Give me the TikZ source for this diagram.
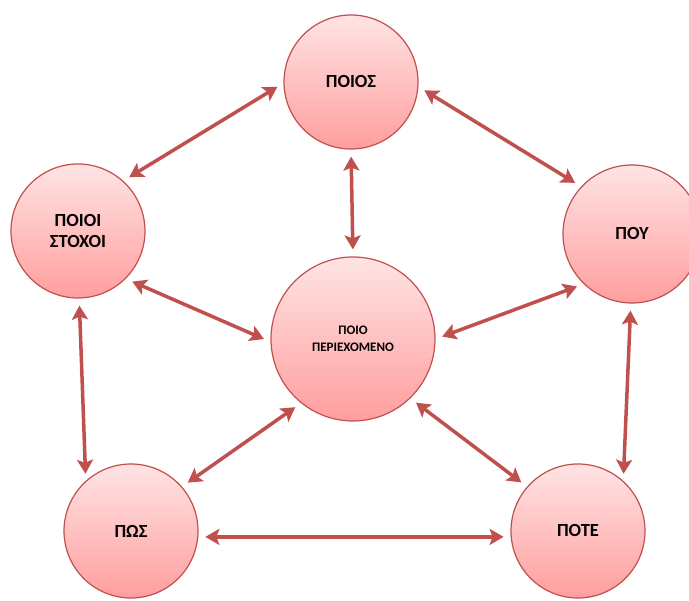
\documentclass[tikz,border=0pt]{standalone}
\usepackage{fontspec}
\setmainfont{Carlito}
\usetikzlibrary{arrows.meta}

\definecolor{rimred}{RGB}{192,80,77}
\definecolor{pinktop}{RGB}{255,228,228}
\definecolor{pinkbot}{RGB}{255,158,158}

\tikzset{
    bubble/.style={circle, draw=rimred, line width=1.2pt, top color=pinktop, bottom color=pinkbot,
        minimum size=134pt, inner sep=0pt, align=center, font=\bfseries\fontsize{18.5}{21}\selectfont},
    link/.style={{Stealth[length=14pt,width=16pt,inset=3pt]}-{Stealth[length=14pt,width=16pt,inset=3pt]},
        line width=3.5pt, draw=rimred, shorten <=7pt, shorten >=7pt}
}

\begin{document}
\begin{tikzpicture}[x=1pt,y=1pt]
    \clip (0,0) rectangle (689,601);
    \useasboundingbox (0,0) rectangle (689,601);

    % the six questions
    \node[bubble] (who) at (351,519) {ΠΟΙΟΣ};
    \node[bubble] (goals) at (78,370) {ΠΟΙΟΙ\\ΣΤΟΧΟΙ};
    \node[bubble, minimum size=138pt] (where) at (632,367) {ΠΟΥ};
    \node[bubble, minimum size=164pt, font=\bfseries\fontsize{13}{17}\selectfont] (what) at (353,262) {ΠΟΙΟ\\ΠΕΡΙΕΧΟΜΕΝΟ};
    \node[bubble] (how) at (131,70) {ΠΩΣ};
    \node[bubble] (when) at (578,70) {ΠΟΤΕ};

    % links
    \draw[link] (who.181) -- (goals.48);
    \draw[link] (who.356) -- (where.137);
    \draw[link] (who.270) -- (what.90);
    \draw[link] (goals.-45) -- (what.182);
    \draw[link] (where.226) -- (what.0);
    \draw[link] (goals.-89) -- (how.132);
    \draw[link] (where.269) -- (when.48);
    \draw[link] (what.231) -- (how.41);
    \draw[link] (what.-46) -- (when.139);
    \draw[link] (how.-5) -- (when.185);
\end{tikzpicture}
\end{document}
